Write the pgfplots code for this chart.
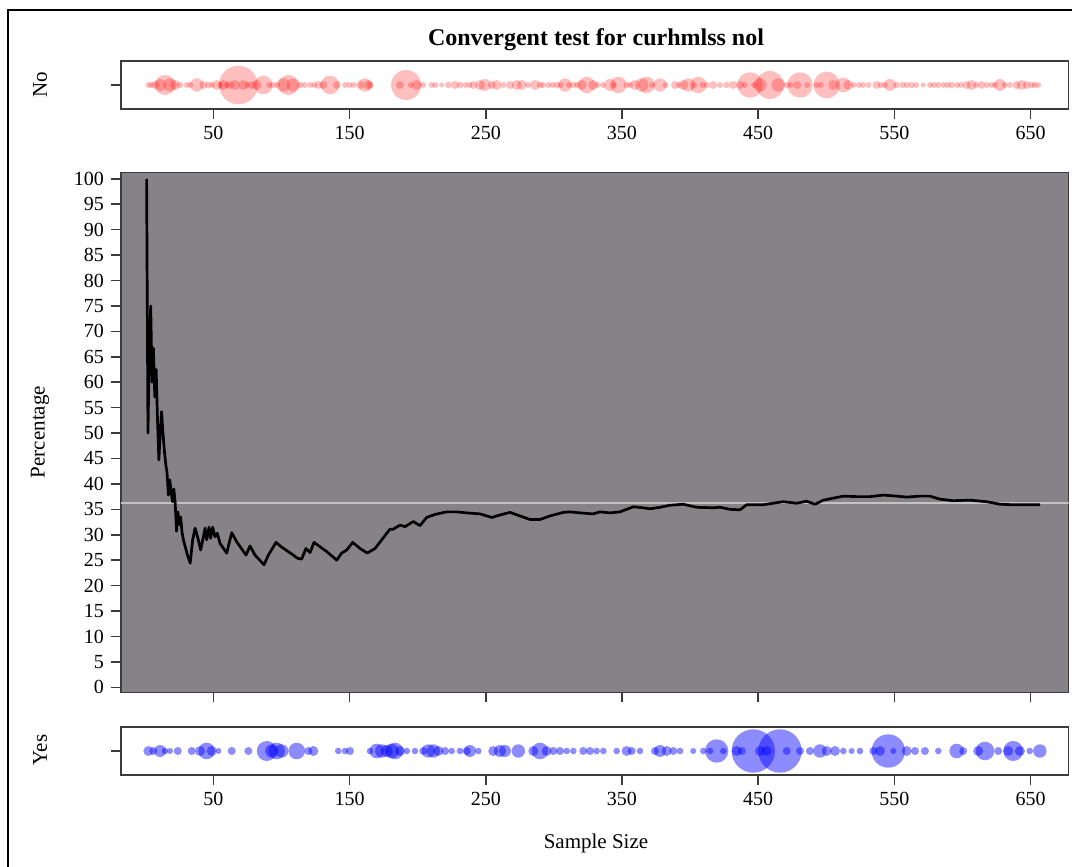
\documentclass[border=0pt]{standalone}
\usepackage{fontspec}
\setmainfont{Liberation Serif}
\usepackage{pgfplots}
\usepackage{pgfplotstable}
\pgfplotsset{compat=1.18}

\definecolor{panelgray}{RGB}{134,131,136}
\definecolor{axisdark}{RGB}{60,60,60}
\definecolor{refgray}{RGB}{195,195,195}

% cumulative percentage of "Yes"
\pgfplotstableread{
n y
1 100
2 50
3 66.7
4 75
5 60
6 66.7
7 57.1
8 62.5
9 52.6
10 44.7
11 50
12 54.2
13 50
14 46.7
15 44
16 42.2
17 37.8
18 40.8
19 38.5
20 36.5
21 39
22 36.2
23 30.7
24 34.5
25 32
26 33.5
27 30.5
28 29
29 28
30 27
31 26
32 25.2
33 24.4
34.8 29
36.6 31.3
39 29
40.7 27
42.7 29.6
43.9 31.3
45.1 29
46.8 31.5
48 29.3
49.5 31.5
51.2 29.6
52.9 30.3
54.9 28.3
59.8 26.4
63.5 30.4
67.2 28.6
74 26
76.9 27.8
80.6 26
87.2 24.1
90.4 26
96 28.5
99.5 27.7
108.7 26
111.6 25.4
114.8 25.2
118 27.3
121 26.5
123.9 28.5
133.2 26.7
140.6 25
144.2 26.4
147.9 27
152.3 28.5
157.7 27.3
163 26.4
168.7 27.3
173.6 29
177.3 30.3
179.7 31.1
182.1 31.1
187 31.9
190.7 31.6
196.8 32.6
201.7 31.8
206.6 33.4
212.7 34
221.3 34.5
228.6 34.5
236 34.3
245.8 34.1
254.4 33.4
260.5 33.9
267.8 34.4
275.1 33.7
282.5 33
289.8 33
297.1 33.7
306.9 34.4
311.8 34.5
319.2 34.3
328.9 34.1
333.8 34.5
341.2 34.3
348.5 34.5
358.3 35.5
365.6 35.3
370.5 35.1
377.9 35.4
385.2 35.8
395 36
404.8 35.4
417 35.3
421.9 35.4
429.3 35
436.6 34.9
441.5 35.9
453.7 35.9
461 36.2
468.4 36.5
478.2 36.2
485.6 36.6
491.7 36
497.8 36.8
512.5 37.6
522.3 37.5
532.1 37.5
541.8 37.8
551.6 37.6
559 37.4
568.7 37.6
576 37.6
583.4 37
593.2 36.7
605.4 36.8
617.7 36.5
627.5 36
637.2 35.9
647.1 35.9
657 35.9
}\linedata

% "No" bubbles: position, radius in px
\pgfplotstableread{
n r
2.3 3
4.5 3
7.2 4
10.9 6
14.5 10
18.2 6.7
21.9 5
25.5 3.3
30.4 3
33 3
37.8 6.7
42.7 4
46.3 3.3
49 3
52.5 5
55 3
57.3 5
60 3
62.2 4
65.9 5
68.4 19.3
72 5
75 3
78.2 4
81.8 5
86.7 9.3
91 3
94 3.3
97 3
101.4 6.7
105 10
108.7 6.7
113.6 3.3
117 3
121 3
124 3
127.1 4
130.7 4
135.7 9.3
140.6 4
146.7 3
150 3
153 3
157.7 4
161.3 6.7
163.8 5
165 3.3
187 4
191.5 15
195 3
199.3 5
204 3
210.3 3
213 3
217.6 2.5
222.5 3.3
227.4 4
231.1 3.3
235 3
238 3
240.9 4
245.8 5
249.4 6
254.4 4
258 5
263 3
267.8 4
272.7 5
276.4 5
281 3
286.1 5
289.8 3.3
292 3
295.9 3
299 3
302.1 3.3
305 3
308.2 6.7
311 3
314.3 3.3
317 3
320.4 5
324.1 8.3
328.9 5
332 3
336 3
341.2 6
344 3
347.3 8.3
353.4 3.3
356 3
359.5 5
364.5 6.7
368.1 8.3
372 3
377.9 6.7
382 3
388.9 4
392 3
395 5
398.7 6.7
403 3
406 8.3
409 3
412.2 3.3
417 4
422 3
426.9 3.3
431.7 4
436.6 4
440 3
444 12.7
447 3
451.3 6.7
458.6 14
464.7 6.7
470.9 3.3
474 3
478.7 4
480.7 12.7
486 3
492.9 3
496 3
500.3 13.3
505.1 5
512.5 7.3
516.1 5
520 3
524 3
527.1 3
531 3
536.9 4
540 3
543 3
546.7 6
551.6 3.3
556 3
559 3
562.6 3.3
566 3
571.2 2.5
576.1 3
579 3
582.2 3
586 3
589 3
592 3.3
596 3
599 3
603 4
606.7 5
610 3
614 4
618 3
621.4 3
624 3
627.5 6
631 3
634.8 3
639.7 4
643.4 5
647.1 4
650.7 3.3
653 3
655.6 3
}\nodata

% "Yes" bubbles: position, radius in px
\pgfplotstableread{
n r
2.3 5
5.9 4
10.9 6
14.5 3.3
18.2 3
23.9 4
34.1 4
40.2 5
45.1 8.3
48.8 5
53.7 3
63.5 4
75.7 4
89.2 10
92.9 6.7
96.5 8.3
100.2 6.7
111.2 8.3
119.7 4
123.4 5
141.7 3.3
146.7 3.3
150.3 4
165 3.3
169.9 7.3
173.6 6.7
177.3 6
180.9 7.3
183.4 8.3
187 5
192 3.3
198 3.3
204.1 4
207.8 6.7
211.5 6.7
215.2 5
220.1 4
225 3.3
231.1 3.3
236 4
238.4 6
244.5 3.3
255.5 5
260.4 6
264.1 6
273.9 6.7
284.9 5
289.8 8.3
294.7 5
299.6 4
304.5 4
309.4 3.3
314.3 3.3
321.6 4
326.5 4
331.4 3.3
336.3 3.3
346.1 3.3
353.4 5
357.1 4
363.2 3.3
374.2 4
377.9 6
382.8 5
387.7 4
392.6 3.3
402.3 3
409.7 3.3
414.6 3.3
419.5 11.7
424.4 3.3
434.2 5
437.9 4
446.4 21.7
451.3 5
456.2 5
466 21.7
470.9 4
480.7 4
488 4
495.3 6.7
500.3 5
506.4 5
512.5 3.3
518.6 3
524.7 3.3
534.5 4
539.4 5
545.5 16.7
549.2 3
559 5
565.1 4
572.4 4
582.2 3.3
595.7 7.3
600.5 4
611.5 5
616.5 9.3
626.2 4
633.6 5
637.2 10
642.1 5
649.4 3.3
656.8 6.7
}\yesdata

\pgfplotsset{
  panel/.style={
    scale only axis,
    width=473.75pt,
    xmin=-17.8, xmax=677.8,
    axis line style={axisdark, line width=0.75pt},
    tick style={axisdark, line width=0.75pt},
    tick align=outside,
    major tick length=5pt,
    tick pos=left,
    tick label style={font=\fontsize{10}{12}\selectfont},
    /pgf/number format/assume math mode=true,
  },
  strip/.style={
    panel,
    height=24pt,
    ymin=-1, ymax=1,
    ytick={0}, yticklabels={},
    xtick={50,150,...,650},
    clip=true,
  },
  bubbles/.style={
    scatter, only marks, mark=*,
    point meta=\thisrow{r},
    scatter/use mapped color={draw opacity=0, fill=#1},
    visualization depends on={0.5*\thisrow{r} \as \rad},
    scatter/@pre marker code/.append style={/tikz/mark size=\rad},
  },
}

\begin{document}
\begin{tikzpicture}
\useasboundingbox (0,0) rectangle (536pt,433.5pt);
\draw[line width=1pt] (4pt,0) -- (4pt,428.5pt) -- (536pt,428.5pt);

% top strip: No
\begin{axis}[strip, at={(60.5pt,379pt)}, anchor=south west]
\addplot[bubbles=red, fill opacity=0.25] table[x=n, y expr=0] {\nodata};
\end{axis}

% main panel
\begin{axis}[panel, at={(60.5pt,87.35pt)}, anchor=south west,
  height=259.8pt,
  ymin=-0.98, ymax=101.2,
  ytick={0,5,...,100},
  xtick={50,150,...,650}, xticklabels={},
  axis background/.style={fill=panelgray},
]
\addplot[refgray, line width=0.6pt, forget plot] coordinates {(-17.8,36.26) (677.8,36.26)};
\addplot[black, line width=1.35pt, line join=round] table[x=n, y=y] {\linedata};
\end{axis}

% bottom strip: Yes
\begin{axis}[strip, at={(60.5pt,46pt)}, anchor=south west]
\addplot[bubbles=blue, fill opacity=0.45] table[x=n, y expr=0] {\yesdata};
\end{axis}

\node[font=\bfseries\fontsize{12}{14}\selectfont] at (298pt,413.5pt) {Convergent test for curhmlss nol};
\node[rotate=90, font=\fontsize{10.5}{12}\selectfont] at (20pt,391pt) {No};
\node[rotate=90, font=\fontsize{10.5}{12}\selectfont] at (20pt,217.5pt) {Percentage};
\node[rotate=90, font=\fontsize{10.5}{12}\selectfont] at (20pt,58.5pt) {Yes};
\node[font=\fontsize{10.5}{12}\selectfont] at (298pt,12pt) {Sample Size};
\end{tikzpicture}
\end{document}
